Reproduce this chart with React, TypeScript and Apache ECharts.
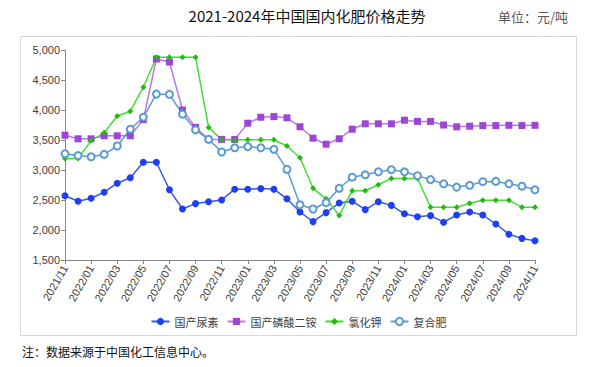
import React, { useEffect, useRef } from "react";
import * as echarts from "echarts";

const months: string[] = [
  "2021/11", "2021/12",
  "2022/01", "2022/02", "2022/03", "2022/04", "2022/05", "2022/06", "2022/07", "2022/08", "2022/09", "2022/10", "2022/11", "2022/12",
  "2023/01", "2023/02", "2023/03", "2023/04", "2023/05", "2023/06", "2023/07", "2023/08", "2023/09", "2023/10", "2023/11", "2023/12",
  "2024/01", "2024/02", "2024/03", "2024/04", "2024/05", "2024/06", "2024/07", "2024/08", "2024/09", "2024/10", "2024/11",
];

const urea: number[] = [2570, 2480, 2530, 2630, 2780, 2870, 3130, 3130, 2670, 2350, 2440, 2470, 2500, 2680, 2680, 2690, 2680, 2520, 2300, 2140, 2290, 2450, 2480, 2340, 2470, 2410, 2270, 2220, 2240, 2130, 2250, 2300, 2250, 2100, 1930, 1860, 1820];
const dap: number[] = [3580, 3520, 3520, 3570, 3570, 3570, 3840, 4850, 4800, 4000, 3710, 3510, 3510, 3510, 3780, 3880, 3890, 3870, 3720, 3530, 3430, 3520, 3680, 3770, 3770, 3770, 3830, 3810, 3810, 3750, 3720, 3730, 3740, 3740, 3745, 3740, 3745];
const kcl: number[] = [3190, 3190, 3490, 3620, 3900, 3980, 4380, 4880, 4880, 4880, 4880, 3710, 3505, 3505, 3505, 3505, 3505, 3400, 3205, 2695, 2520, 2240, 2655, 2655, 2755, 2860, 2860, 2860, 2380, 2380, 2380, 2445, 2495, 2495, 2495, 2380, 2380];
const compound: number[] = [3270, 3240, 3220, 3260, 3400, 3680, 3880, 4265, 4260, 3930, 3670, 3510, 3300, 3370, 3390, 3370, 3345, 3010, 2420, 2350, 2455, 2695, 2880, 2920, 2970, 3005, 2970, 2905, 2840, 2770, 2715, 2745, 2805, 2810, 2770, 2730, 2670];

const seriesNames: string[] = ["国产尿素", "国产磷酸二铵", "氯化钾", "复合肥"];
const titleText = "2021-2024年中国国内化肥价格走势";
const unitText = "单位：元/吨";
const noteText = "注：数据来源于中国化工信息中心。";

export default function App() {
  const ref = useRef<HTMLDivElement>(null);
  useEffect(() => {
    document.body.style.margin = "0";
    if (!ref.current) return;
    const chart = echarts.init(ref.current, undefined, { renderer: "svg" });
    const axisFont = "'Liberation Sans', Arial, sans-serif";
    const cjk = "'Noto Sans CJK SC', sans-serif";
    chart.setOption({
      animation: false,
      backgroundColor: "#ffffff",
      graphic: [
        {
          type: "rect",
          shape: { x: 20.5, y: 36.5, width: 556, height: 299 },
          style: { fill: "none", stroke: "#d9d9d9", lineWidth: 1 },
          z: -1,
        },
        {
          type: "text",
          x: 307,
          y: 15,
          style: { text: titleText, font: `15px ${cjk}`, fill: "#111111", align: "center", verticalAlign: "middle" },
        },
        {
          type: "text",
          x: 568,
          y: 16,
          style: { text: unitText, font: `13px ${cjk}`, fill: "#595959", align: "right", verticalAlign: "middle" },
        },
        {
          type: "text",
          x: 22,
          y: 351,
          style: { text: noteText, font: `12px ${cjk}`, fill: "#111111", align: "left", verticalAlign: "middle" },
        },
      ],
      legend: {
        data: seriesNames,
        left: "center",
        top: 311,
        itemWidth: 18,
        itemHeight: 9,
        itemGap: 8,
        textStyle: { fontSize: 11, color: "#404040", fontFamily: cjk },
      },
      grid: { left: 65, right: 62, top: 50, bottom: 107, containLabel: false },
      xAxis: {
        type: "category",
        data: months,
        boundaryGap: false,
        axisLine: { lineStyle: { color: "#888888", width: 1 } },
        axisTick: { interval: 1, length: 4, lineStyle: { color: "#888888" } },
        axisLabel: {
          interval: 1,
          rotate: 60,
          fontSize: 11,
          color: "#404040",
          fontFamily: axisFont,
          margin: 6,
        },
        splitLine: { show: false },
      },
      yAxis: {
        type: "value",
        min: 1500,
        max: 5000,
        interval: 500,
        axisLine: { show: true, lineStyle: { color: "#888888", width: 1 } },
        axisTick: { show: true, length: 4, lineStyle: { color: "#888888" } },
        axisLabel: {
          fontSize: 11,
          color: "#404040",
          fontFamily: axisFont,
          margin: 5,
          formatter: (v: number) => v.toLocaleString("en-US"),
        },
        splitLine: { show: false },
      },
      series: [
        {
          name: seriesNames[0],
          type: "line",
          data: urea,
          symbol: "circle",
          symbolSize: 7,
          itemStyle: { color: "#1f3ff2" },
          lineStyle: { color: "#3558f0", width: 1.5 },
        },
        {
          name: seriesNames[1],
          type: "line",
          data: dap,
          symbol: "rect",
          symbolSize: 7,
          itemStyle: { color: "#9f45d6" },
          lineStyle: { color: "#bb78e6", width: 1.5 },
        },
        {
          name: seriesNames[2],
          type: "line",
          data: kcl,
          symbol: "diamond",
          symbolSize: 6,
          itemStyle: { color: "#22bb11" },
          lineStyle: { color: "#44dd33", width: 1.5 },
        },
        {
          name: seriesNames[3],
          type: "line",
          data: compound,
          symbol: "emptyCircle",
          symbolSize: 7,
          itemStyle: { color: "#5b9bd5", borderColor: "#5b9bd5", borderWidth: 1 },
          lineStyle: { color: "#5b9bd5", width: 1.5 },
        },
      ],
    });
    return () => chart.dispose();
  }, []);
  return <div ref={ref} style={{ width: 597, height: 367 }} />;
}
